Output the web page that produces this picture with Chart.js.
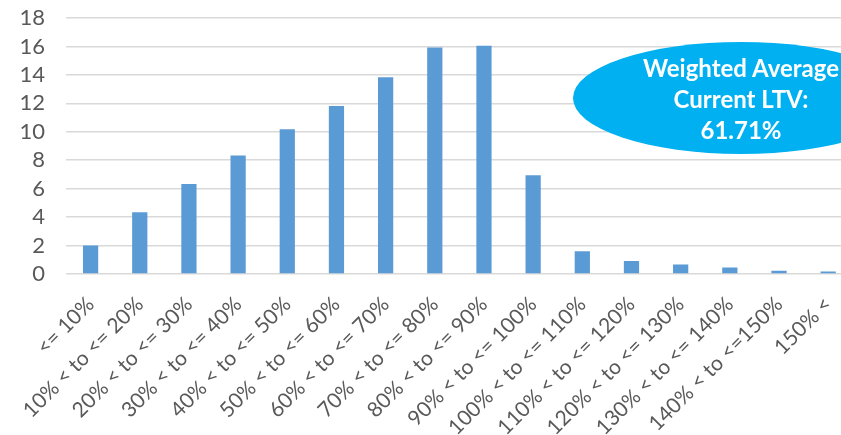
<!DOCTYPE html>
<html>
<head>
<meta charset="utf-8">
<title>Current LTV distribution</title>
<script src="https://cdn.jsdelivr.net/npm/chart.js@4/dist/chart.umd.min.js"></script>
<style>
    html, body { margin: 0; padding: 0; background: #fff; overflow: hidden; }
    #wrap { position: relative; width: 856px; height: 435px; }
    #ltvBadge {
        position: absolute; left: 573px; top: 42px; width: 336px; height: 112px;
        border-radius: 50%; background: #00b0f0; color: #fff;
        font: bold 24px Lato, sans-serif; line-height: 31px; text-align: center;
        display: flex; align-items: center; justify-content: center;
    }
</style>
</head>
<body>
<div id="wrap">
    <canvas id="ltvChart" width="856" height="435"></canvas>
    <div id="ltvBadge"><div>Weighted Average<br>Current LTV:<br>61.71%</div></div>
</div>
<script>
// LTV buckets and share of pool (%) per bucket
const categories = [
    '<= 10%', '10% < to <= 20%', '20% < to <= 30%', '30% < to <= 40%',
    '40% < to <= 50%', '50% < to <= 60%', '60% < to <= 70%', '70% < to <= 80%',
    '80% < to <= 90%', '90% < to <= 100%', '100% < to <= 110%', '110% < to <= 120%',
    '120% < to <= 130%', '130% < to <= 140%', '140% < to <=150%', '150% <'
];
const poolShare = [2.0, 4.35, 6.33, 8.34, 10.17, 11.82, 13.83, 15.92, 16.05, 6.95, 1.6, 0.92, 0.66, 0.46, 0.22, 0.18];
const yTicks = { min: 0, max: 18, step: 2 };

const textGray = '#595959';

new Chart(document.getElementById('ltvChart').getContext('2d'), {
    type: 'bar',
    data: {
        labels: categories,
        datasets: [{
            data: poolShare,
            backgroundColor: '#5b9bd5',
            categoryPercentage: 1,
            barPercentage: 0.31,
        }]
    },
    options: {
        responsive: false,
        animation: false,
        layout: { padding: { top: 18, left: 0, right: 0, bottom: 0 } },
        plugins: { legend: { display: false }, tooltip: { enabled: false } },
        scales: {
            x: {
                grid: { display: false },
                border: { display: false },
                ticks: {
                    color: textGray,
                    font: { family: 'Lato', size: 21 },
                    minRotation: 45,
                    maxRotation: 45,
                    autoSkip: false,
                    padding: 10,
                },
                afterFit: scale => { scale.height = 161; }
            },
            y: {
                min: yTicks.min,
                max: yTicks.max,
                grid: { color: '#d9d9d9', lineWidth: 1.5, drawTicks: false },
                border: { display: false },
                ticks: {
                    stepSize: yTicks.step,
                    autoSkip: false,
                    color: textGray,
                    font: { family: 'Lato', size: 22 },
                    padding: 21,
                },
                // fixed axis width, and no extra room above the top tick label
                afterFit: scale => {
                    scale.width = 66;
                    scale.paddingTop = 0;
                    scale.paddingBottom = 0;
                }
            }
        }
    }
});
</script>
</body>
</html>
